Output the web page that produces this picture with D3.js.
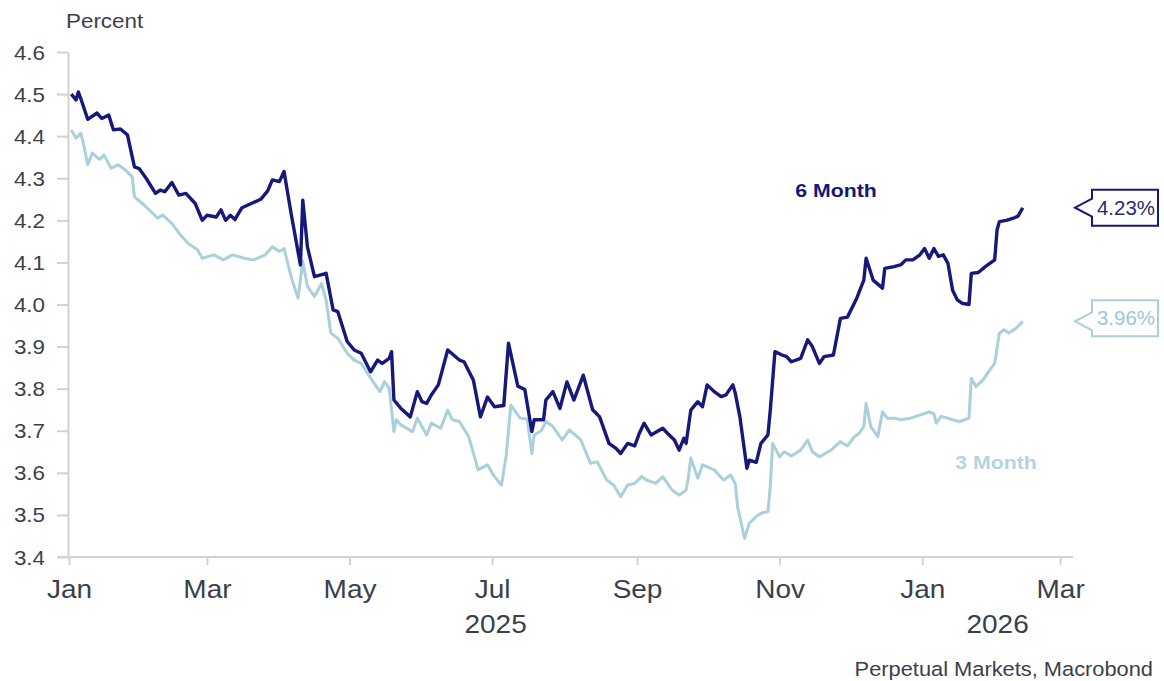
<!DOCTYPE html>
<html>
<head>
<meta charset="utf-8">
<script src="https://cdn.jsdelivr.net/npm/d3@7"></script>
<style>
  body { margin: 0; background: #fff; }
  text { font-family: "Liberation Sans", Arial, sans-serif; }
</style>
</head>
<body>
<svg class="chart"></svg>
<script>
// Datos
var dates6m = [
  "2025-01-02","2025-01-04","2025-01-05","2025-01-06","2025-01-09","2025-01-13","2025-01-15","2025-01-18","2025-01-20","2025-01-23","2025-01-26","2025-01-29","2025-01-31",
  "2025-02-03","2025-02-07","2025-02-09","2025-02-11","2025-02-14","2025-02-17","2025-02-20","2025-02-24","2025-02-27",
  "2025-03-01","2025-03-05","2025-03-07","2025-03-09","2025-03-11","2025-03-13","2025-03-16","2025-03-20","2025-03-24","2025-03-27","2025-03-29",
  "2025-04-01","2025-04-03","2025-04-06","2025-04-10","2025-04-11","2025-04-13","2025-04-16","2025-04-21","2025-04-24","2025-04-26","2025-04-30",
  "2025-05-03","2025-05-06","2025-05-10","2025-05-13","2025-05-15","2025-05-18","2025-05-19","2025-05-20","2025-05-23","2025-05-27","2025-05-30",
  "2025-06-01","2025-06-03","2025-06-05","2025-06-08","2025-06-12","2025-06-17","2025-06-19","2025-06-23","2025-06-26","2025-06-29",
  "2025-07-02","2025-07-06","2025-07-08","2025-07-12","2025-07-15","2025-07-18","2025-07-19","2025-07-23","2025-07-24","2025-07-27","2025-07-30",
  "2025-08-02","2025-08-05","2025-08-09","2025-08-13","2025-08-16","2025-08-20","2025-08-23","2025-08-25","2025-08-28","2025-08-31",
  "2025-09-02","2025-09-04","2025-09-07","2025-09-12","2025-09-14","2025-09-17","2025-09-19","2025-09-21","2025-09-22","2025-09-24","2025-09-27","2025-09-29",
  "2025-10-01","2025-10-04","2025-10-07","2025-10-09","2025-10-12","2025-10-13","2025-10-15","2025-10-18","2025-10-19","2025-10-22","2025-10-24","2025-10-27","2025-10-28","2025-10-30",
  "2025-11-02","2025-11-04","2025-11-06","2025-11-10","2025-11-13","2025-11-15","2025-11-18","2025-11-20","2025-11-24","2025-11-27","2025-11-30",
  "2025-12-04","2025-12-07","2025-12-08","2025-12-11","2025-12-15","2025-12-16","2025-12-20","2025-12-23","2025-12-25","2025-12-28","2025-12-31",
  "2026-01-02","2026-01-04","2026-01-06","2026-01-08","2026-01-10","2026-01-12","2026-01-14","2026-01-16","2026-01-18","2026-01-21","2026-01-22","2026-01-25","2026-01-28",
  "2026-02-01","2026-02-02","2026-02-03","2026-02-06","2026-02-09","2026-02-11","2026-02-13"
];
var rate6m = [
  4.50,4.486,4.505,4.49,4.44,4.455,4.442,4.45,4.415,4.417,4.403,4.327,4.323,
  4.30,4.264,4.272,4.268,4.29,4.26,4.264,4.24,4.20,
  4.212,4.208,4.225,4.20,4.212,4.202,4.23,4.24,4.25,4.27,4.296,
  4.292,4.316,4.217,4.094,4.248,4.137,4.066,4.074,3.987,3.983,3.912,
  3.892,3.884,3.84,3.868,3.86,3.872,3.888,3.773,3.753,3.733,3.793,
  3.769,3.765,3.785,3.809,3.892,3.868,3.864,3.82,3.733,3.78,
  3.757,3.76,3.908,3.806,3.798,3.698,3.726,3.726,3.773,3.793,3.753,
  3.816,3.773,3.832,3.75,3.733,3.67,3.658,3.646,3.67,3.664,
  3.694,3.718,3.69,3.706,3.694,3.678,3.654,3.682,3.67,3.749,3.769,3.757,
  3.809,3.793,3.781,3.785,3.809,3.79,3.733,3.611,3.63,3.625,3.67,3.69,3.749,3.888,
  3.88,3.876,3.864,3.872,3.916,3.90,3.86,3.876,3.88,3.967,3.97,
  4.015,4.058,4.11,4.058,4.039,4.086,4.09,4.095,4.106,4.106,4.118,
  4.133,4.11,4.133,4.114,4.118,4.098,4.034,4.011,4.003,4.0,4.074,4.076,4.09,
  4.106,4.177,4.197,4.20,4.205,4.21,4.23
];
var dates3m = [
  "2025-01-02","2025-01-04","2025-01-06","2025-01-07","2025-01-09","2025-01-11","2025-01-14","2025-01-16","2025-01-19","2025-01-22","2025-01-25","2025-01-28","2025-01-29",
  "2025-02-02","2025-02-05","2025-02-08","2025-02-10","2025-02-14","2025-02-17","2025-02-21","2025-02-25","2025-02-27",
  "2025-03-04","2025-03-08","2025-03-12","2025-03-17","2025-03-21","2025-03-26","2025-03-29",
  "2025-04-01","2025-04-03","2025-04-06","2025-04-09","2025-04-11","2025-04-13","2025-04-16","2025-04-19","2025-04-21","2025-04-23","2025-04-26","2025-04-30",
  "2025-05-03","2025-05-06","2025-05-10","2025-05-14","2025-05-16","2025-05-18","2025-05-20","2025-05-21","2025-05-23","2025-05-28","2025-05-30",
  "2025-06-03","2025-06-05","2025-06-09","2025-06-12","2025-06-14","2025-06-17","2025-06-21","2025-06-25","2025-06-29",
  "2025-07-02","2025-07-05","2025-07-07","2025-07-09","2025-07-13","2025-07-16","2025-07-18","2025-07-19","2025-07-22","2025-07-24","2025-07-27","2025-07-31",
  "2025-08-03","2025-08-08","2025-08-12","2025-08-15","2025-08-19","2025-08-22","2025-08-25","2025-08-28","2025-08-31",
  "2025-09-03","2025-09-05","2025-09-09","2025-09-12","2025-09-16","2025-09-19","2025-09-22","2025-09-23","2025-09-24","2025-09-27","2025-09-29",
  "2025-10-04","2025-10-08","2025-10-11","2025-10-13","2025-10-14","2025-10-17","2025-10-19","2025-10-22","2025-10-24","2025-10-27","2025-10-28","2025-10-29",
  "2025-11-01","2025-11-03","2025-11-06","2025-11-10","2025-11-13","2025-11-15","2025-11-18","2025-11-23","2025-11-27","2025-11-30",
  "2025-12-03","2025-12-05","2025-12-07","2025-12-08","2025-12-10","2025-12-13","2025-12-15","2025-12-17","2025-12-20","2025-12-23","2025-12-27","2025-12-31",
  "2026-01-04","2026-01-06","2026-01-07","2026-01-09","2026-01-12","2026-01-14","2026-01-17","2026-01-21","2026-01-22","2026-01-24","2026-01-27","2026-01-30",
  "2026-02-01","2026-02-03","2026-02-05","2026-02-07","2026-02-10","2026-02-13"
];
var rate3m = [
  4.415,4.395,4.407,4.387,4.332,4.36,4.345,4.355,4.324,4.332,4.32,4.304,4.256,
  4.237,4.221,4.205,4.213,4.193,4.17,4.145,4.13,4.11,
  4.118,4.106,4.118,4.11,4.106,4.118,4.137,
  4.126,4.133,4.066,4.015,4.103,4.043,4.019,4.05,4.01,3.932,3.92,3.884,
  3.868,3.86,3.825,3.793,3.817,3.80,3.698,3.726,3.714,3.698,3.73,
  3.69,3.718,3.706,3.749,3.726,3.722,3.686,3.607,3.619,
  3.591,3.571,3.64,3.761,3.73,3.728,3.646,3.69,3.70,3.722,3.71,3.678,
  3.702,3.678,3.623,3.626,3.583,3.571,3.543,3.571,3.575,
  3.591,3.583,3.575,3.591,3.559,3.547,3.559,3.591,3.635,3.587,3.619,
  3.607,3.583,3.595,3.575,3.52,3.444,3.48,3.496,3.504,3.508,3.568,3.67,
  3.638,3.65,3.64,3.654,3.678,3.65,3.638,3.654,3.674,3.664,
  3.686,3.694,3.71,3.765,3.71,3.686,3.745,3.73,3.73,3.726,3.73,3.737,
  3.745,3.74,3.718,3.734,3.73,3.726,3.722,3.73,3.825,3.805,3.821,3.845,
  3.86,3.932,3.94,3.932,3.943,3.96
];
var seriesNames = ["6 Month", "3 Month"];
var yTicks = [3.4, 3.5, 3.6, 3.7, 3.8, 3.9, 4.0, 4.1, 4.2, 4.3, 4.4, 4.5, 4.6];
var yearLabels = ["2025", "2026"];

var parse = d3.timeParse("%Y-%m-%d");
function zip(dates, values) {
    var out = [];
    for (var i = 0; i < Math.min(dates.length, values.length); i++) {
        out.push({ date: parse(dates[i]), value: values[i] });
    }
    return out;
}
var series = [
    { name: seriesNames[0], color: "#16187a", width: 3.4, data: zip(dates6m, rate6m) },
    { name: seriesNames[1], color: "#a9d0db", width: 3, data: zip(dates3m, rate3m) }
];

var width = 1164, height = 681,
    stretch = 1.12,              // el texto del original sale un poco ensanchado
    axisColor = "#d2d2d2",
    textColor = "#3b3f4c";

var x = d3.scaleTime()
    .domain([new Date(2025, 0, 1), new Date(2026, 2, 6, 12)])
    .range([69, 1073]);

var y = d3.scaleLinear()
    .domain([3.4, 4.6])
    .range([557, 52]);

var chart = d3.select(".chart")
    .attr("width", width)
    .attr("height", height);

// texto con ensanche horizontal
function addText(x0, y0, txt, size, anchor, fill, weight) {
    return chart.append("text")
        .attr("transform", "translate(" + x0 + "," + y0 + ") scale(" + stretch + ",1)")
        .attr("text-anchor", anchor)
        .attr("font-size", size)
        .attr("font-weight", weight || "normal")
        .attr("fill", fill)
        .text(txt);
}

// Eje Y
var yAxis = d3.axisLeft(y)
    .tickValues(yTicks)
    .tickFormat(d3.format(".1f"))
    .tickSize(11)
    .tickSizeOuter(0);

var gy = chart.append("g")
    .attr("transform", "translate(68,0)")
    .call(yAxis);
gy.select(".domain").attr("stroke", axisColor).attr("stroke-width", 2);
gy.selectAll(".tick line").attr("stroke", axisColor).attr("stroke-width", 2);
gy.selectAll(".tick text")
    .attr("x", null)
    .attr("dy", null)
    .attr("transform", "translate(-23,7) scale(" + stretch + ",1)")
    .attr("font-size", 20)
    .attr("font-family", "Liberation Sans, Arial, sans-serif")
    .attr("fill", textColor);

// Eje X
var xAxis = d3.axisBottom(x)
    .ticks(d3.timeMonth.every(2))
    .tickFormat(d3.timeFormat("%b"))
    .tickSize(8)
    .tickSizeOuter(0);

var gx = chart.append("g")
    .attr("transform", "translate(0,557)")
    .call(xAxis);
gx.select(".domain").attr("stroke", axisColor).attr("stroke-width", 2)
    .attr("d", "M57,0H1073");
gx.selectAll(".tick line").attr("stroke", axisColor).attr("stroke-width", 2);
gx.selectAll(".tick text")
    .attr("y", null)
    .attr("dy", null)
    .attr("transform", "translate(0,41) scale(" + stretch + ",1)")
    .attr("font-size", 25)
    .attr("font-family", "Liberation Sans, Arial, sans-serif")
    .attr("fill", textColor);

// Etiquetas de anio centradas en su tramo
var yearStart = [new Date(2025, 0, 1), new Date(2026, 0, 1)];
var yearEnd = [new Date(2026, 0, 1), x.domain()[1]];
yearLabels.forEach(function (lab, i) {
    var cx = (x(yearStart[i]) + x(yearEnd[i])) / 2;
    addText(cx, 633, lab, 25, "middle", textColor);
});

addText(66, 28, "Percent", 20, "start", textColor);
addText(1153, 676, "Perpetual Markets, Macrobond", 19.5, "end", textColor);

// Lineas
var line = d3.line()
    .x(function (d) { return x(d.date); })
    .y(function (d) { return y(d.value); });

chart.selectAll(".series")
    .data(series.slice().reverse())
    .enter().append("path")
    .attr("class", "series")
    .attr("fill", "none")
    .attr("stroke", function (d) { return d.color; })
    .attr("stroke-width", function (d) { return d.width; })
    .attr("stroke-linejoin", "round")
    .attr("d", function (d) { return line(d.data); });

// Nombres de series
addText(836, 197, series[0].name, 19, "middle", series[0].color, "bold");
addText(996, 469, series[1].name, 19, "middle", "#b3d5df", "bold");

// Cajas con el ultimo valor
var boxLeft = 1092, boxRight = 1158, boxH = 36, tipX = 1075;
series.forEach(function (s) {
    var last = s.data[s.data.length - 1];
    var cy = y(last.value);
    var top = cy - boxH / 2 + (s === series[1] ? -3 : 0);
    var bot = top + boxH;
    chart.append("path")
        .attr("d", "M" + boxLeft + "," + top + "H" + boxRight + "V" + bot + "H" + boxLeft +
              "V" + (cy + 9) + "L" + tipX + "," + cy + "L" + boxLeft + "," + (cy - 9) + "Z")
        .attr("fill", "#fff")
        .attr("stroke", s.color)
        .attr("stroke-width", 2);
    chart.append("text")
        .attr("x", (boxLeft + boxRight) / 2 + 1)
        .attr("y", (top + bot) / 2 + 7)
        .attr("text-anchor", "middle")
        .attr("font-size", 20)
        .attr("textLength", 58)
        .attr("lengthAdjust", "spacingAndGlyphs")
        .attr("fill", s === series[0] ? "#2a2a6e" : "#9cc8d4")
        .text(last.value.toFixed(2) + "%");
});
</script>
</body>
</html>
